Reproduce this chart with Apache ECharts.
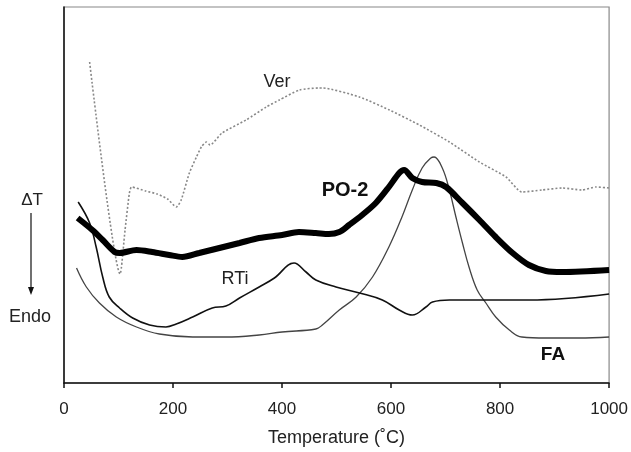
<!DOCTYPE html>
<html>
<head>
<meta charset="utf-8">
<script src="https://cdn.jsdelivr.net/npm/echarts@6/dist/echarts.min.js"></script>
<style>html,body{margin:0;padding:0;background:#fff}#c{width:631px;height:452px}</style>
</head>
<body>
<div id="c"></div>
<script>
// Temperature (°C) and ΔT (arbitrary units)
var verT = [47,103,112,120,124,150,171,190,206,215,230,243,252,261,268,290,334,371,395,432,468,474,542,597,652,707,762,811,840,877,914,950,976,1000];
var verY = [321,109,153,190,196,192,189,184,176,183,210,226,236,241,238,250,263,276,283,293,295,295,286,273,258,241,221,206,191,193,195,193,196,195];

var poT = [25,52,71,93,102,133,162,193,217,248,285,322,358,400,431,462,486,505,523,547,572,596,615,624,639,657,683,701,731,762,792,823,853,884,914,1000];
var poY = [165,153,143,131,130,133,131,128,126,130,135,140,145,148,151,150,149,151,158,168,180,196,210,213,205,201,200,196,180,163,146,130,118,112,111,113];

var rtiT = [26,47,59,71,83,102,126,157,187,206,236,272,297,322,358,386,422,444,462,499,542,584,615,639,664,676,707,853,1000];
var rtiY = [181,160,136,106,86,75,65,58,56,59,66,75,77,85,96,105,120,111,103,96,90,83,73,68,76,81,83,83,89];

var faT = [23,41,65,96,133,175,236,297,358,400,462,474,505,536,566,596,620,639,657,673,679,694,707,719,731,743,758,774,792,817,840,884,945,1000];
var faY = [115,96,80,66,56,49,46,46,48,51,54,58,73,86,106,136,166,193,215,225,226,215,193,166,140,116,93,80,66,53,46,45,45,46];

var xTicks = [0,200,400,600,800,1000];

function pairs(a,b){return a.map(function(v,i){return [v,b[i]];});}

var font = 'Liberation Sans, Arial, sans-serif';
var chart = echarts.init(document.getElementById('c'), null, {renderer:'canvas'});
chart.setOption({
  animation:false,
  backgroundColor:'#fff',
  grid:{left:64,right:21,top:7,bottom:69,show:true,borderColor:'#888',borderWidth:1.2},
  xAxis:{type:'value',min:xTicks[0],max:xTicks[xTicks.length-1],interval:200,
    name:'Temperature (˚C)',nameLocation:'middle',nameGap:46,
    nameTextStyle:{fontFamily:font,fontSize:18,color:'#222'},
    axisLine:{lineStyle:{color:'#111',width:1.5}},
    axisTick:{show:true,length:5,lineStyle:{color:'#111',width:1.5}},
    axisLabel:{fontFamily:font,fontSize:17,color:'#222',margin:18,
      formatter:function(v){return String(v);}},
    splitLine:{show:false}},
  yAxis:{type:'value',min:0,max:376,
    axisLine:{show:true,lineStyle:{color:'#111',width:1.5}},
    axisTick:{show:false},axisLabel:{show:false},splitLine:{show:false}},
  series:[
    {type:'line',data:pairs(verT,verY),showSymbol:false,smooth:0.2,
     lineStyle:{color:'#888',width:1.6,type:[2,2]}},
    {type:'line',data:pairs(faT,faY),showSymbol:false,smooth:0.4,
     lineStyle:{color:'#444',width:1.3}},
    {type:'line',data:pairs(rtiT,rtiY),showSymbol:false,smooth:0.4,
     lineStyle:{color:'#111',width:1.6}},
    {type:'line',data:pairs(poT,poY),showSymbol:false,smooth:0.3,
     lineStyle:{color:'#000',width:6}}
  ],
  graphic:[
    {type:'text',x:277,y:82,style:{text:'Ver',font:'18px '+font,fill:'#222',textAlign:'center',textVerticalAlign:'middle'}},
    {type:'text',x:345,y:190,style:{text:'PO-2',font:'bold 20px '+font,fill:'#111',textAlign:'center',textVerticalAlign:'middle'}},
    {type:'text',x:235,y:279,style:{text:'RTi',font:'18px '+font,fill:'#222',textAlign:'center',textVerticalAlign:'middle'}},
    {type:'text',x:553,y:355,style:{text:'FA',font:'bold 19px '+font,fill:'#111',textAlign:'center',textVerticalAlign:'middle'}},
    {type:'text',x:32,y:200,style:{text:'ΔT',font:'17px '+font,fill:'#222',textAlign:'center',textVerticalAlign:'middle'}},
    {type:'line',shape:{x1:31,y1:213,x2:31,y2:289},style:{stroke:'#111',lineWidth:1.2}},
    {type:'polygon',shape:{points:[[28,287],[34,287],[31,295]]},style:{fill:'#111'}},
    {type:'text',x:30,y:317,style:{text:'Endo',font:'18px '+font,fill:'#222',textAlign:'center',textVerticalAlign:'middle'}}
  ]
});
</script>
</body>
</html>
